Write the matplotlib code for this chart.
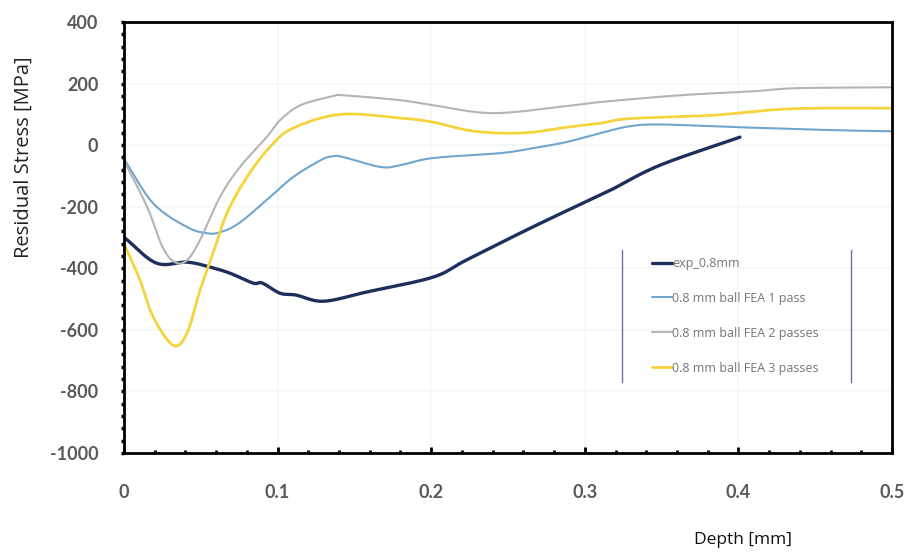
import numpy as np
import matplotlib
matplotlib.use("Agg")
import matplotlib.pyplot as plt
from matplotlib.ticker import MultipleLocator

plt.rcParams["axes.unicode_minus"] = False

# depth [mm] / residual stress [MPa] for each profile
exp_depth = [0.0, 0.021, 0.041, 0.056, 0.069, 0.084, 0.09, 0.1016, 0.112, 0.13,
             0.158, 0.201, 0.223, 0.266, 0.31, 0.318, 0.349, 0.401]
exp_stress = [-299, -383, -380, -396, -416, -448, -448, -481, -487, -507,
              -477, -429, -373, -266, -162, -143, -65, 26]

p1_depth = [0.0, 0.019, 0.041, 0.054, 0.0625, 0.075, 0.095, 0.11, 0.128, 0.136,
            0.143, 0.167, 0.18, 0.201, 0.245, 0.266, 0.288, 0.31, 0.33,
            0.35, 0.395, 0.46, 0.5]
p1_stress = [-45, -189, -266, -286, -283, -253, -169, -104, -49, -36,
             -39, -71, -65, -42, -26, -10, 10, 39, 62,
             67, 59, 49, 45]

p2_depth = [0.0, 0.015, 0.025, 0.033, 0.041, 0.0495, 0.0625, 0.0755, 0.093, 0.1016,
            0.115, 0.136, 0.143, 0.18, 0.201, 0.24, 0.288, 0.31, 0.362,
            0.41, 0.438, 0.5]
p2_stress = [-50, -200, -330, -380, -374, -308, -168, -71, 27, 81,
             130, 159, 162, 146, 130, 104, 127, 140, 162,
             175, 185, 188]

p3_depth = [0.0, 0.0104, 0.019, 0.032, 0.041, 0.0495, 0.058, 0.067, 0.08, 0.095,
            0.11, 0.141, 0.18, 0.201, 0.223, 0.245, 0.266, 0.288, 0.31,
            0.329, 0.383, 0.434, 0.5]
p3_stress = [-320, -438, -558, -650, -611, -471, -351, -221, -104, -6,
             55, 100, 88, 75, 49, 39, 42, 58, 71,
             86, 97, 118, 120]

labels = ["exp_0.8mm", "0.8 mm ball FEA 1 pass",
          "0.8 mm ball FEA 2 passes", "0.8 mm ball FEA 3 passes"]
colors = ["#1f2f5c", "#6ea6cf", "#b4b4b4", "#f5d33c"]


def smooth(x, y, n=12):
    # Catmull-Rom through the read points for a soft Excel-like curve
    x = np.asarray(x, float)
    y = np.asarray(y, float)
    px = np.concatenate([[2 * x[0] - x[1]], x, [2 * x[-1] - x[-2]]])
    py = np.concatenate([[2 * y[0] - y[1]], y, [2 * y[-1] - y[-2]]])
    xs, ys = [], []
    t = np.linspace(0, 1, n, endpoint=False)
    for i in range(1, len(px) - 2):
        for arr, out in ((px, xs), (py, ys)):
            p0, p1, p2, p3 = arr[i - 1], arr[i], arr[i + 1], arr[i + 2]
            out.extend(0.5 * (2 * p1 + (-p0 + p2) * t
                              + (2 * p0 - 5 * p1 + 4 * p2 - p3) * t ** 2
                              + (-p0 + 3 * p1 - 3 * p2 + p3) * t ** 3))
    xs.append(x[-1])
    ys.append(y[-1])
    return np.array(xs), np.array(ys)


fig = plt.figure(figsize=(9.09, 5.53), dpi=100)
ax = fig.add_axes([124 / 909, 1 - 453 / 553, 768 / 909, 431 / 553])

series = [(exp_depth, exp_stress, 2.4), (p1_depth, p1_stress, 1.5),
          (p2_depth, p2_stress, 1.5), (p3_depth, p3_stress, 2.0)]
for (d, s, lw), lab, c in zip(series, labels, colors):
    xs, ys = smooth(d, s)
    ax.plot(xs, ys, color=c, lw=lw, label=lab, solid_capstyle="round")

ax.set_xlim(0, 0.5)
ax.set_ylim(-1000, 400)
ax.xaxis.set_major_locator(MultipleLocator(0.1))
ax.xaxis.set_minor_locator(MultipleLocator(0.02))
ax.yaxis.set_major_locator(MultipleLocator(200))
ax.yaxis.set_minor_locator(MultipleLocator(40))
ax.xaxis.set_major_formatter(plt.FuncFormatter(lambda v, p: f"{v:g}"))

ax.grid(True, which="major", color="#f6f6f6", lw=1.2)
ax.set_axisbelow(True)
for sp in ax.spines.values():
    sp.set_linewidth(2.0)
    sp.set_color("black")

tick_font = dict(family="Lato", weight="bold", size=13)
ax.tick_params(axis="y", which="both", direction="out", length=2.5, width=2.5,
               pad=16, labelcolor="#595959")
ax.tick_params(axis="x", which="major", direction="in", length=4, width=2,
               pad=22, labelcolor="#595959")
ax.tick_params(axis="x", which="minor", direction="in", length=2.5, width=2)
for lbl in ax.get_xticklabels() + ax.get_yticklabels():
    lbl.set_fontproperties(tick_font)

leg = ax.legend(loc="upper left", bbox_to_anchor=(0.675, 0.478), frameon=False,
                prop=dict(family="Open Sans", size=9), labelcolor="#767676",
                handlelength=1.6, handletextpad=0.0, labelspacing=1.75,
                borderpad=0.3)

# legend box: only the two vertical sides are drawn
for xv in (0.648, 0.9466):
    ax.plot([xv, xv], [0.164, 0.471], transform=ax.transAxes,
            color="#6a72a6", lw=1.0, clip_on=False)

fig.text(24 / 909, 1 - 157 / 553, "Residual Stress [MPa]", rotation=90,
         ha="center", va="center", family="Open Sans", size=14.5, color="#222222")
fig.text(743 / 909, 1 - 540 / 553, "Depth [mm]", ha="center", va="center",
         family="Open Sans", size=12.5, color="#111111")

fig.savefig("out.png", dpi=100)
